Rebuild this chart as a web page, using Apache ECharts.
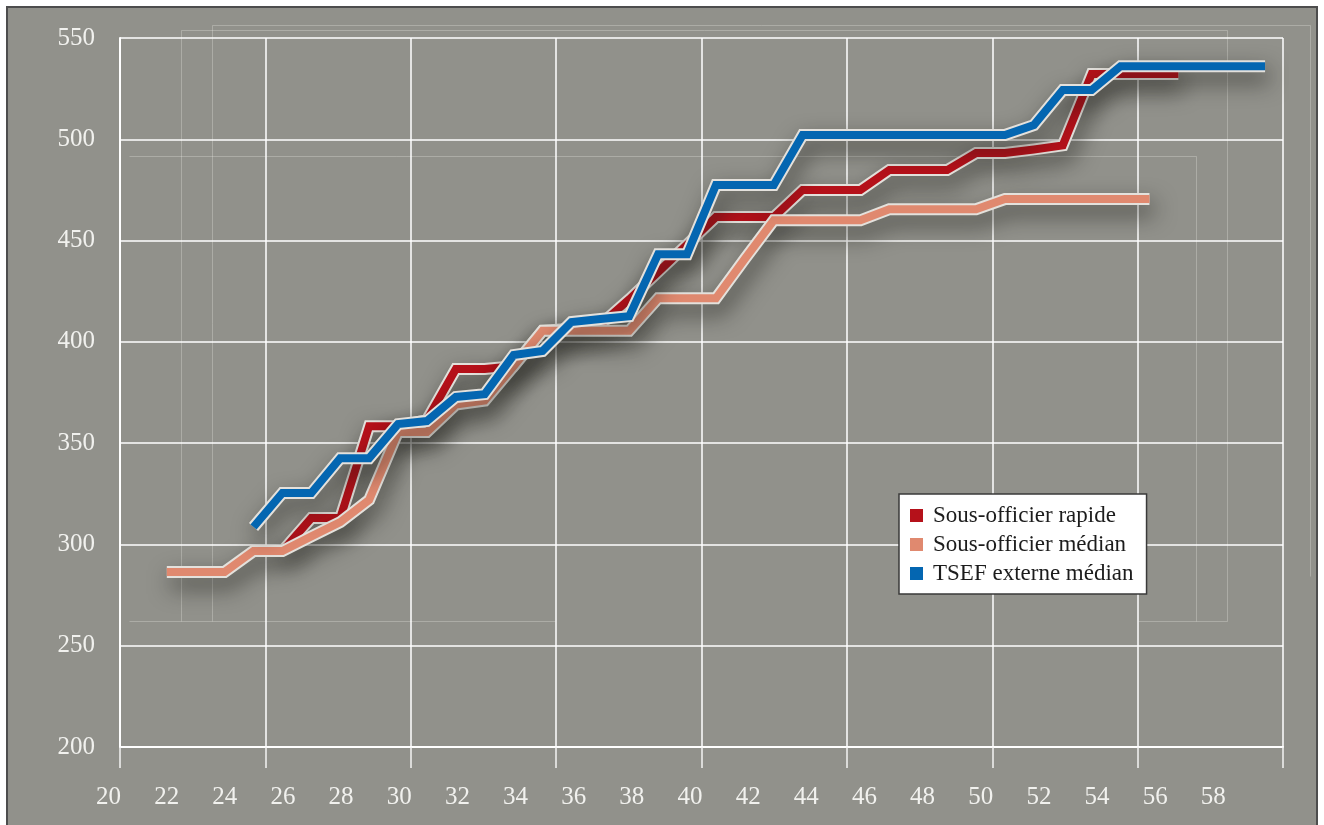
<!DOCTYPE html>
<html><head><meta charset="utf-8">
<script src="https://cdn.jsdelivr.net/npm/echarts@6/dist/echarts.min.js"></script>
<style>
html,body{margin:0;padding:0;background:#fff;}
#wrap{position:relative;width:1324px;height:825px;overflow:hidden;background:#fff;}
#panel{position:absolute;left:6px;top:6px;width:1308px;height:840px;background:#91918b;border:2px solid #4d4d4d;}
#chart{position:absolute;left:0;top:0;width:1324px;height:825px;}
</style></head>
<body>
<div id="wrap"><div id="panel"></div><div id="chart"></div></div>
<script>
// ---- data (age in years, index value) ----
const rapideAges   = [26,27,28,29,30,31,32,33,34,35,36,37,38,39,40,41,42,43,44,45,46,47,48,49,50,51,52,53,54,55,56,57];
const rapideValues = [296.7,313,313,358.4,358.4,361.4,386.6,386.6,388,405.5,406.5,408.5,421,434.5,448,461.6,461.6,461.6,475,475,475,484.8,484.8,484.8,493.2,493.2,495,497,532.2,532.2,532.2,532.2];

const medianAges   = [22,23,24,25,26,27,28,29,30,31,32,33,34,35,36,37,38,39,40,41,42,43,44,45,46,47,48,49,50,51,52,53,54,55,56];
const medianValues = [286.4,286.4,286.4,296.7,296.7,304,311,322,355.5,355.5,369,371,388,405.5,405.5,405.5,405.5,421.5,421.5,421.5,441,460,460,460,460,465.5,465.5,465.5,465.5,470.5,470.5,470.5,470.5,470.5,470.5];

const tsefAges     = [25,26,27,28,29,30,31,32,33,34,35,36,37,38,39,40,41,42,43,44,45,46,47,48,49,50,51,52,53,54,55,56,57,58,59,60];
const tsefValues   = [308.6,325.4,325.4,342.6,342.6,359.4,360.9,372.8,374.2,393.5,395.5,409.8,411.3,412.7,443.3,443.3,477.4,477.4,477.4,502.1,502.1,502.1,502.1,502.1,502.1,502.1,502.1,507,524.3,524.3,536.1,536.1,536.1,536.1,536.1,536.1];

const seriesNames  = ['Sous-officier rapide','Sous-officier médian','TSEF externe médian'];
const xTickLabels  = [20,22,24,26,28,30,32,34,36,38,40,42,44,46,48,50,52,54,56,58];
const yTickLabels  = [200,250,300,350,400,450,500,550];

// ---- chart ----
const FONT = '"Liberation Serif","DejaVu Serif",serif';
const colors = ['#b5111a','#e0896f','#0466b1'];
const sets = [[rapideAges,rapideValues],[medianAges,medianValues],[tsefAges,tsefValues]];

const series = [];
sets.forEach(function(s, i){
  const data = s[0].map(function(a, k){ return [a, s[1][k]]; });
  series.push({
    type:'line', name: seriesNames[i] + ' (contour)', xAxisIndex:0, yAxisIndex:0,
    data: data, symbol:'none', silent:true, animation:false,
    lineStyle:{color:'#e4e1dc', width:12, cap:'butt', join:'miter',
      shadowColor:'rgba(25,25,20,0.62)', shadowBlur:22, shadowOffsetX:4, shadowOffsetY:10}
  });
  series.push({
    type:'line', name: seriesNames[i], xAxisIndex:0, yAxisIndex:0,
    data: data, symbol:'none', animation:false,
    itemStyle:{color: colors[i]},
    lineStyle:{color: colors[i], width:8, cap:'butt', join:'miter'}
  });
});

const decor = [
  [212,25,1310,25],[181,30,1227,30],[1310,25,1310,576],[1227,30,1227,621],
  [181,30,181,621],[212,25,212,621],[129,156,1196,156],[1196,156,1196,621],
  [129,621,555,621],[1138,621,1227,621]
].map(function(l){
  return {type:'line', silent:true, z:0,
    shape:{x1:l[0]+0.5,y1:l[1]+0.5,x2:l[2]+0.5,y2:l[3]+0.5},
    style:{stroke:'rgba(235,235,230,0.3)', lineWidth:1}};
});

const chart = echarts.init(document.getElementById('chart'), null, {renderer:'canvas'});
chart.setOption({
  animation:false,
  backgroundColor:'transparent',
  grid:{left:120, right:41, top:38, bottom:78, containLabel:false},
  graphic: decor,
  legend:{
    data: seriesNames, orient:'vertical', left:899, top:494,
    icon:'rect', itemWidth:13, itemHeight:13, itemGap:6,
    backgroundColor:'#ffffff', borderColor:'#3a3a3a', borderWidth:1.5, borderRadius:0,
    padding:[10,13,9,11],
    textStyle:{fontFamily:FONT, fontSize:23, color:'#1c1c1c', lineHeight:22, padding:[0,0,0,5]}
  },
  xAxis:[
    { // data axis
      type:'value', min:20.38, max:60.62, show:false
    },
    { // label axis
      type:'value', min:20, max:60, interval:2, position:'bottom',
      axisLine:{show:false}, axisTick:{show:false}, splitLine:{show:false},
      axisLabel:{show:true, margin:38, fontFamily:FONT, fontSize:25, color:'#f1f1ee',
        padding:[0,23,0,0],
        formatter:function(v){ return xTickLabels.indexOf(v) >= 0 ? String(v) : ''; }}
    },
    { // grid axis
      type:'value', min:20, max:60, interval:5, position:'bottom',
      axisLine:{show:true, lineStyle:{color:'#ffffff', width:2}},
      axisTick:{show:true, length:21, lineStyle:{color:'#f4f4f4', width:1.5}},
      axisLabel:{show:false},
      splitLine:{show:true, lineStyle:{color:'#ffffff', width:1.5}}
    }
  ],
  yAxis:{
    type:'value', min:200, max:550, interval:50,
    axisLine:{show:true, lineStyle:{color:'#ffffff', width:2}},
    axisTick:{show:false},
    axisLabel:{margin:25, fontFamily:FONT, fontSize:25, color:'#f1f1ee',
      formatter:function(v){ return yTickLabels.indexOf(v) >= 0 ? String(v) : ''; }},
    splitLine:{show:true, lineStyle:{color:'#ffffff', width:1.5}}
  },
  series: series
});
</script>
</body></html>
